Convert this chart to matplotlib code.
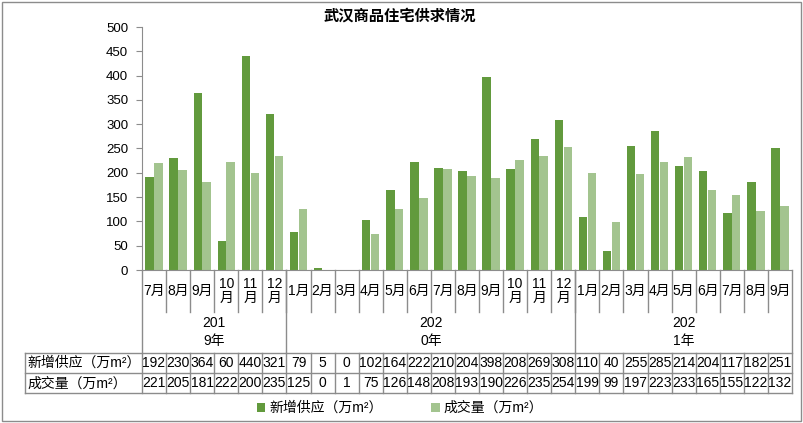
import matplotlib
matplotlib.use('Agg')
import matplotlib.pyplot as plt
from matplotlib.patches import Rectangle

plt.rcParams['font.family'] = ['Liberation Sans', 'Noto Sans CJK SC']

months = ['7月', '8月', '9月', '10\n月', '11\n月', '12\n月',
          '1月', '2月', '3月', '4月', '5月', '6月', '7月', '8月', '9月', '10\n月', '11\n月', '12\n月',
          '1月', '2月', '3月', '4月', '5月', '6月', '7月', '8月', '9月']
years = ['201\n9年', '202\n0年', '202\n1年']
year_counts = [6, 12, 9]
supply = [192, 230, 364, 60, 440, 321,
          79, 5, 0, 102, 164, 222, 210, 204, 398, 208, 269, 308,
          110, 40, 255, 285, 214, 204, 117, 182, 251]
deal = [221, 205, 181, 222, 200, 235,
        125, 0, 1, 75, 126, 148, 208, 193, 190, 226, 235, 254,
        199, 99, 197, 223, 233, 165, 155, 122, 132]
names = ['新增供应（万m²）', '成交量（万m²）']
colors = ['#629a3d', '#a3c48f']
title = '武汉商品住宅供求情况'

W, H = 804, 423
grid = '#8c8c8c'
fig = plt.figure(figsize=(W / 100, H / 100), dpi=100)

# pixel layout
x0, x1 = 142, 792
y_top, y_axis = 27, 270
n = len(months)
colw = (x1 - x0) / n

ax = fig.add_axes([x0 / W, 1 - y_axis / H, (x1 - x0) / W, (y_axis - y_top) / H])
xs = list(range(n))
w = 0.35
ax.bar([x - 0.185 for x in xs], supply, w, color=colors[0], label=names[0], edgecolor='none')
ax.bar([x + 0.185 for x in xs], deal, w, color=colors[1], label=names[1], edgecolor='none')
ax.set_xlim(-0.5, n - 0.5)
ax.set_ylim(0, 500)
ax.set_yticks(range(0, 501, 50))
ax.set_xticks([])
ax.tick_params(axis='y', direction='out', length=4, color=grid, labelsize=9.5, pad=6)
for s in ['top', 'right']:
    ax.spines[s].set_visible(False)
for s in ['left', 'bottom']:
    ax.spines[s].set_color(grid)

fig.text(400 / W, 1 - 16 / H, title, ha='center', va='center', fontsize=11, fontweight='bold',
         family=['Noto Sans CJK SC'])

# table below
y_bot = 393
tab = fig.add_axes([x0 / W, 1 - y_bot / H, (x1 - x0) / W, (y_bot - y_axis) / H])
tab.set_xlim(-0.5, n - 0.5)
tab.set_ylim(y_bot, y_axis)
tab.axis('off')
lx = (25 - x0) / colw - 0.5
r1, r2 = 352.5, 372.7
lk = dict(color=grid, lw=1, clip_on=False)

bounds = []
acc = 0
for c in year_counts[:-1]:
    acc += c
    bounds.append(acc - 0.5)

for i in range(n - 1):
    xb = i + 0.5
    tab.plot([xb, xb], [y_axis, 312], **lk)
    tab.plot([xb, xb], [r1, y_bot], **lk)
for xb in bounds:
    tab.plot([xb, xb], [y_axis, r1], **lk)
tab.plot([-0.5, -0.5], [y_axis, y_bot], **lk)
tab.plot([n - 0.5, n - 0.5], [y_axis, y_bot], **lk)
tab.plot([lx, lx], [r1, y_bot], **lk)
for yy in [r1, r2, y_bot]:
    tab.plot([lx, n - 0.5], [yy, yy], **lk)

for i, m in enumerate(months):
    tab.text(i, 291, m, ha='center', va='center', fontsize=10, linespacing=1.0)
start = 0
for yl, c in zip(years, year_counts):
    tab.text(start + (c - 1) / 2, 332, yl, ha='center', va='center', fontsize=10, linespacing=1.3)
    start += c
for i in range(n):
    tab.text(i, (r1 + r2) / 2 + 0.5, str(supply[i]), ha='center', va='center', fontsize=10)
    tab.text(i, (r2 + y_bot) / 2 + 0.5, str(deal[i]), ha='center', va='center', fontsize=10)
tab.text(lx + 0.1, (r1 + r2) / 2 + 0.5, names[0], ha='left', va='center', fontsize=10)
tab.text(lx + 0.1, (r2 + y_bot) / 2 + 0.5, names[1], ha='left', va='center', fontsize=10)

fig.legend(loc='center', bbox_to_anchor=(400 / W, 1 - 408 / H), ncol=2, frameon=False,
           fontsize=10, handlelength=0.6, handleheight=0.6, handletextpad=0.3,
           columnspacing=3.5)

fig.add_artist(Rectangle((2.5 / W, 2.5 / H), (W - 5) / W, (H - 5) / H, transform=fig.transFigure,
                         fill=False, edgecolor=grid, lw=1))

plt.savefig('out.png', dpi=100)
